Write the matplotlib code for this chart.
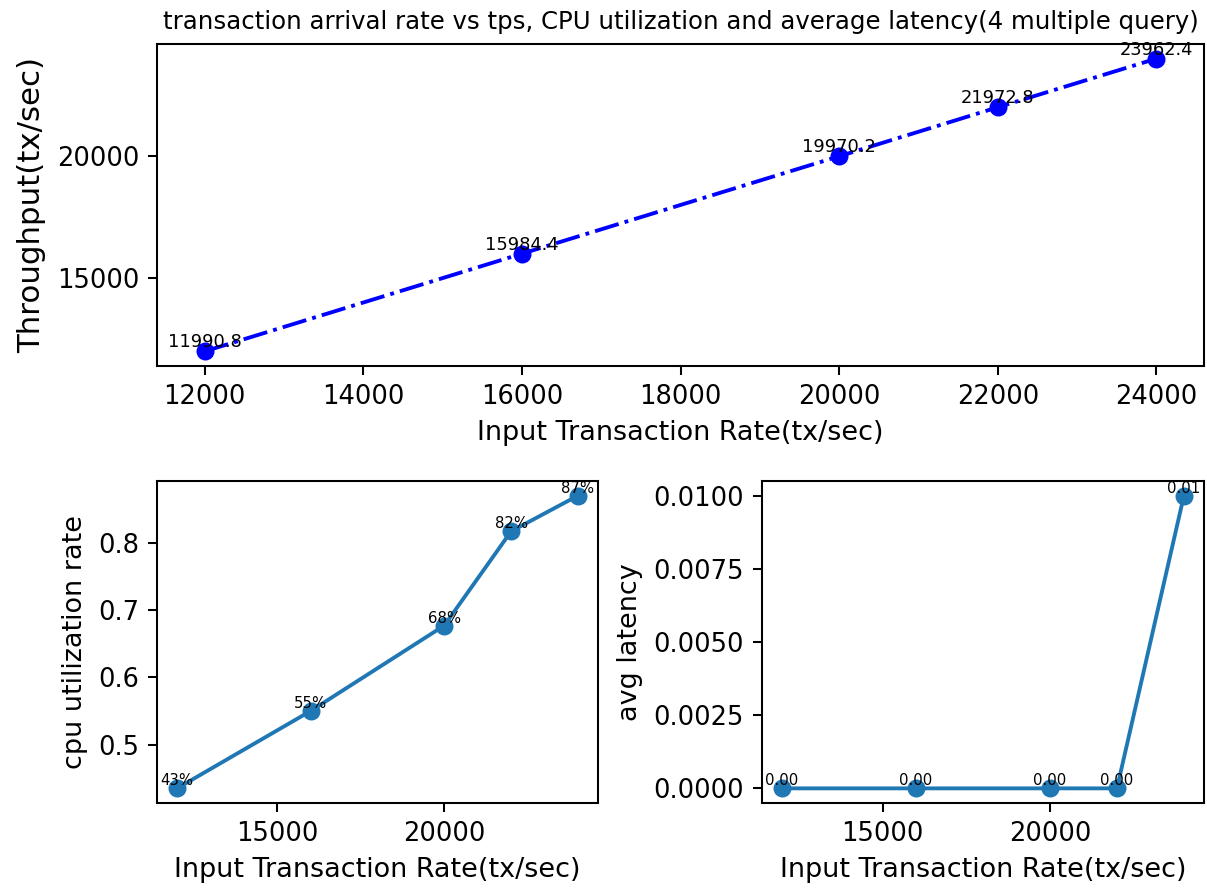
import matplotlib
matplotlib.use("Agg")
import matplotlib.pyplot as plt
from matplotlib.ticker import MultipleLocator

rates = [12000, 16000, 20000, 22000, 24000]
throughput = [11990.8, 15984.4, 19970.2, 21972.8, 23962.4]
cpu_util = [0.435, 0.55, 0.677, 0.817, 0.87]
cpu_labels = ["43%", "55%", "68%", "82%", "87%"]
latency = [0.0, 0.0, 0.0, 0.0, 0.01]
latency_labels = ["0.00", "0.00", "0.00", "0.00", "0.01"]

DPI = 185
W, H = 1207, 890
fig = plt.figure(figsize=(W / DPI, H / DPI), dpi=DPI)

def box(l, t, r, b):
    return [l / W, 1 - b / H, (r - l) / W, (b - t) / H]

ax1 = fig.add_axes(box(157, 44, 1204, 366))
ax2 = fig.add_axes(box(157, 481, 598, 803))
ax3 = fig.add_axes(box(762, 481, 1204, 803))

ax1.plot(rates, throughput, 'bo-.')
for x, y in zip(rates, throughput):
    ax1.text(x, y, str(y), ha='center', va='bottom', fontsize='x-small')
ax1.set_xlabel('Input Transaction Rate(tx/sec)', fontsize=10.5)
ax1.set_ylabel('Throughput(tx/sec)', fontsize=12)
ax1.yaxis.set_major_locator(MultipleLocator(5000))
ax1.set_title('transaction arrival rate vs tps, CPU utilization and average latency(4 multiple query)', fontsize=9.5)

ax2.plot(rates, cpu_util, 'o-')
for x, y, s in zip(rates, cpu_util, cpu_labels):
    ax2.text(x, y, s, ha='center', va='bottom', fontsize='xx-small')
ax2.set_xlabel('Input Transaction Rate(tx/sec)', fontsize=10.5)
ax2.set_ylabel('cpu utilization rate', fontsize=10.5)

ax3.plot(rates, latency, 'o-')
for x, y, s in zip(rates, latency, latency_labels):
    ax3.text(x, y, s, ha='center', va='bottom', fontsize='xx-small')
ax3.set_xlabel('Input Transaction Rate(tx/sec)', fontsize=10.5)
ax3.set_ylabel('avg latency', fontsize=10.5)
ax3.yaxis.set_major_locator(MultipleLocator(0.0025))
ax3.yaxis.set_major_formatter(plt.FormatStrFormatter('%.4f'))

fig.savefig('out.png', dpi=DPI)
